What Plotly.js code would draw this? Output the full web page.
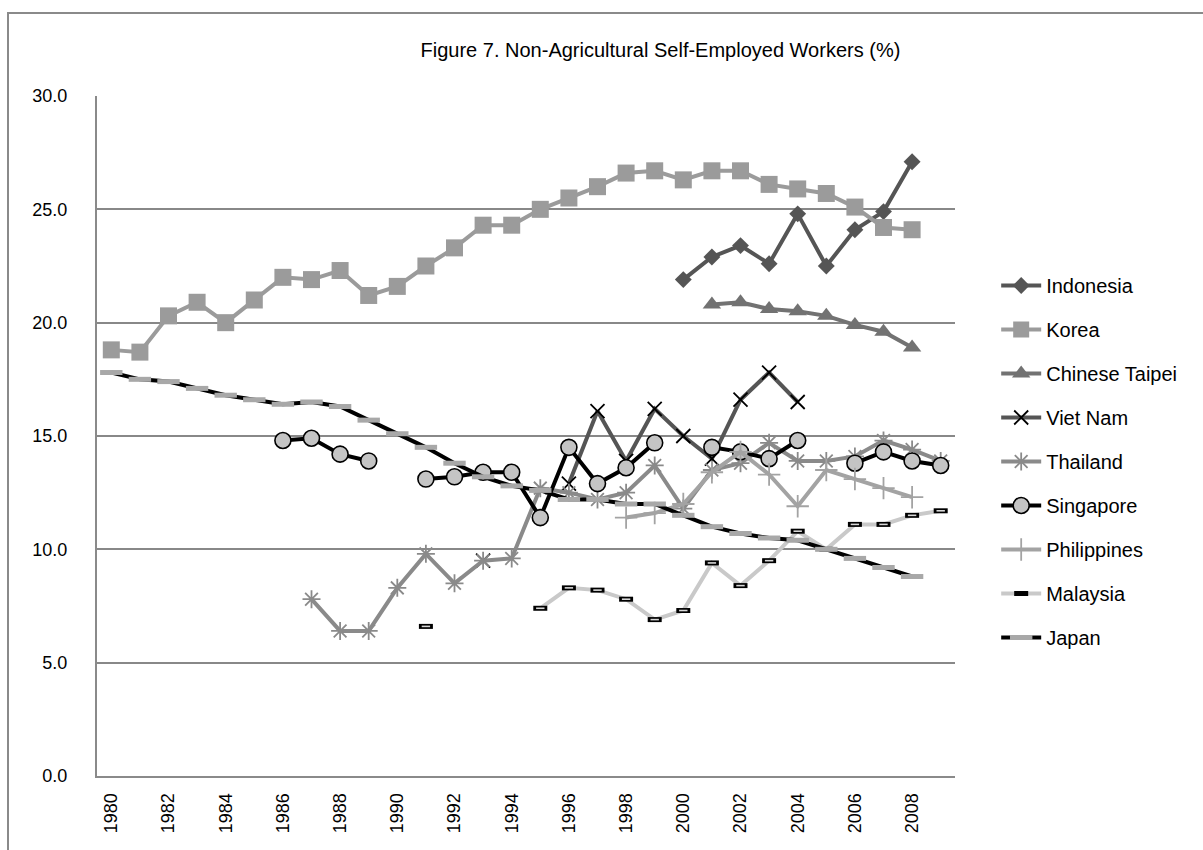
<!DOCTYPE html>
<html>
<head>
<meta charset="utf-8">
<script src="https://cdn.plot.ly/plotly-3.0.1.min.js"></script>
<style>
  html, body { margin: 0; padding: 0; background: #ffffff; }
  #chart { width: 1203px; height: 850px; }
</style>
</head>
<body>
<div id="chart"></div>
<script>
const years = [1980,1981,1982,1983,1984,1985,1986,1987,1988,1989,1990,1991,1992,1993,1994,1995,1996,1997,1998,1999,2000,2001,2002,2003,2004,2005,2006,2007,2008,2009];
const tickLabels = ['1980','1982','1984','1986','1988','1990','1992','1994','1996','1998','2000','2002','2004','2006','2008'];
const yTicks = [0, 5, 10, 15, 20, 25, 30];

const indonesia = [null,null,null,null,null,null,null,null,null,null,null,null,null,null,null,null,null,null,null,null,21.9,22.9,23.4,22.6,24.8,22.5,24.1,24.9,27.1,null];
const korea = [18.8,18.7,20.3,20.9,20.0,21.0,22.0,21.9,22.3,21.2,21.6,22.5,23.3,24.3,24.3,25.0,25.5,26.0,26.6,26.7,26.3,26.7,26.7,26.1,25.9,25.7,25.1,24.2,24.1,null];
const chineseTaipei = [null,null,null,null,null,null,null,null,null,null,null,null,null,null,null,null,null,null,null,null,null,20.8,20.9,20.6,20.5,20.3,19.9,19.6,18.9,null];
const vietNam = [null,null,null,null,null,null,null,null,null,null,null,null,null,9.5,null,null,12.9,16.1,13.9,16.2,15.0,14.0,16.6,17.8,16.5,null,null,null,null,null];
const thailand = [null,null,null,null,null,null,null,7.8,6.4,6.4,8.3,9.8,8.5,9.5,9.6,12.7,12.5,12.2,12.5,13.7,11.8,13.5,13.8,14.7,13.9,13.9,14.1,14.8,14.4,13.9];
const singapore = [null,null,null,null,null,null,14.8,14.9,14.2,13.9,null,13.1,13.2,13.4,13.4,11.4,14.5,12.9,13.6,14.7,null,14.5,14.3,14.0,14.8,null,13.8,14.3,13.9,13.7];
const philippines = [null,null,null,null,null,null,null,null,null,null,null,null,null,null,null,null,null,null,11.4,11.6,12.0,13.4,14.3,13.3,11.9,13.5,13.1,12.7,12.3,null];
const malaysia = [null,null,null,null,null,null,null,null,null,null,null,6.6,null,null,null,7.4,8.3,8.2,7.8,6.9,7.3,9.4,8.4,9.5,10.8,10.0,11.1,11.1,11.5,11.7];
const japan = [17.8,17.5,17.4,17.1,16.8,16.6,16.4,16.5,16.3,15.7,15.1,14.5,13.8,13.2,12.8,12.6,12.2,12.2,12.0,12.0,11.5,11.0,10.7,10.5,10.4,10.0,9.6,9.2,8.8,null];

function tr(name, y, lineColor, marker, extra) {
  return Object.assign({
    type: 'scatter', mode: 'lines+markers', name: name, legendgroup: name,
    x: years, y: y, connectgaps: false,
    line: { color: lineColor, width: 4 },
    marker: marker, hoverinfo: 'skip'
  }, extra || {});
}

const traces = [
  tr('Indonesia', indonesia, '#555555', { symbol: 'diamond', size: 13, color: '#555555' }),
  tr('Korea', korea, '#9b9b9b', { symbol: 'square', size: 17, color: '#9b9b9b' }),
  tr('Chinese Taipei', chineseTaipei, '#727272', { symbol: 'triangle-up', size: 16, color: '#727272' }),
  tr('Viet Nam', vietNam, '#555555', { symbol: 'x-thin-open', size: 14, color: '#000000', line: { color: '#000000', width: 1.8 } }),
  tr('Thailand', thailand, '#8a8a8a', { symbol: 'asterisk-open', size: 15, color: '#8a8a8a', line: { color: '#8a8a8a', width: 1.8 } }),
  tr('Singapore', singapore, '#000000', { symbol: 'circle', size: 16, color: '#c4c4c4', line: { color: '#000000', width: 1.6 } }),
  tr('Philippines', philippines, '#a3a3a3', { symbol: 'cross-thin-open', size: 16, color: '#a3a3a3', line: { color: '#a3a3a3', width: 1.8 } }),
  tr('Malaysia', malaysia, '#c9c9c9', { symbol: 'line-ew', size: 10, color: '#000000', line: { color: '#000000', width: 5 } }),
  tr('Malaysia', malaysia, 'rgba(0,0,0,0)', { symbol: 'line-ew', size: 6, color: '#d8d8d8', line: { color: '#d8d8d8', width: 1.6 } }, { mode: 'markers', showlegend: false }),
  tr('Japan', japan, '#000000', { symbol: 'line-ew', size: 16, color: '#a8a8a8', line: { color: '#a8a8a8', width: 5 } })
];

const font = 'Liberation Sans, Arial, sans-serif';

const layout = {
  width: 1203, height: 850,
  margin: { l: 97, r: 248, t: 96, b: 74 },
  paper_bgcolor: '#ffffff', plot_bgcolor: '#ffffff',
  font: { family: font, color: '#000000', size: 18 },
  title: {
    text: 'Figure 7. Non-Agricultural Self-Employed Workers (%)',
    font: { family: font, size: 20, color: '#000000' },
    xref: 'container', yref: 'container', x: 0.549, y: 1 - 50 / 850,
    xanchor: 'center', yanchor: 'middle'
  },
  xaxis: {
    range: [1979.5, 2009.5], tickmode: 'array',
    tickvals: tickLabels.map(Number), ticktext: tickLabels,
    tickangle: -90, showgrid: false, zeroline: false,
    showline: true, linecolor: '#8a8a8a', linewidth: 2,
    ticks: '', ticklabelstandoff: 8,
    tickfont: { family: font, size: 18, color: '#000000' }
  },
  yaxis: {
    range: [0, 30], tickmode: 'array', tickvals: yTicks,
    ticktext: yTicks.map(v => v.toFixed(1)),
    showgrid: true, gridcolor: '#888888', gridwidth: 1.8,
    zeroline: false, showline: true, linecolor: '#8a8a8a', linewidth: 2,
    ticks: '', ticklabelstandoff: 24,
    tickfont: { family: font, size: 18, color: '#000000' }
  },
  legend: {
    x: 1.048, xanchor: 'left', y: 0.75, yanchor: 'top',
    font: { family: font, size: 20, color: '#000000' },
    itemwidth: 40, tracegroupgap: 15, bgcolor: 'rgba(0,0,0,0)'
  },
  shapes: [{
    type: 'rect', xref: 'paper', yref: 'paper', layer: 'below',
    x0: (8 - 97) / 858, x1: 1.5, y0: -0.5, y1: 1 + (96 - 13) / 680,
    line: { color: '#8a8a8a', width: 2 }, fillcolor: 'rgba(0,0,0,0)'
  }],
  showlegend: true
};

Plotly.newPlot('chart', traces, layout, { displayModeBar: false, staticPlot: true });
</script>
</body>
</html>
